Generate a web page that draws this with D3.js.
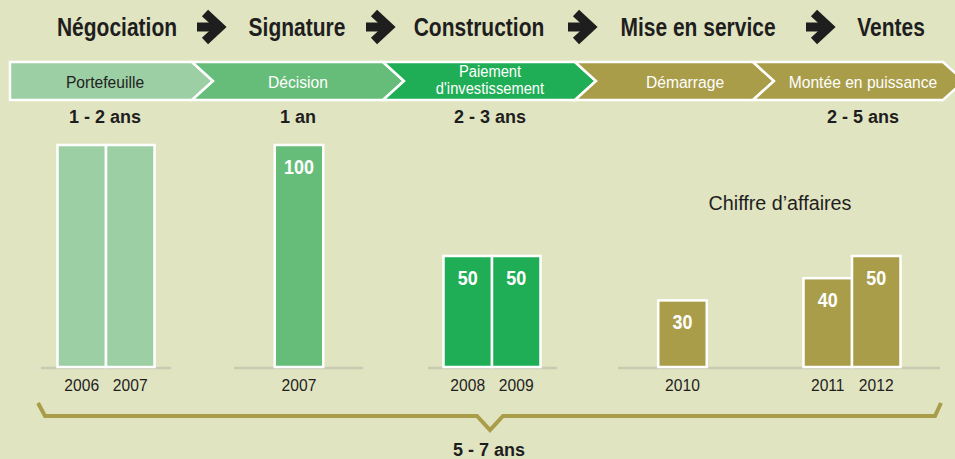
<!DOCTYPE html>
<html>
<head>
<meta charset="utf-8">
<script src="https://cdn.jsdelivr.net/npm/d3@7"></script>
<style>
  body { margin: 0; background: #e1e4c0; }
  svg { display: block; }
  text { font-family: "Liberation Sans", Arial, "Helvetica", sans-serif; }
</style>
</head>
<body>
<div id="canvas"></div>
<script>
// data
const stages = ["Négociation", "Signature", "Construction", "Mise en service", "Ventes"];
const phases = [["Portefeuille"], ["Décision"], ["Paiement", "d'investissement"], ["Démarrage"], ["Montée en puissance"]];
const durations = ["1 - 2 ans", "1 an", "2 - 3 ans", "", "2 - 5 ans"];
const years = ["2006", "2007", "2007", "2008", "2009", "2010", "2011", "2012"];
const values = [100, 100, 100, 50, 50, 30, 40, 50];
const valueLabels = ["", "", "100", "50", "50", "30", "40", "50"];
const barPhase = [0, 0, 1, 2, 2, 3, 4, 4];
const revenueLabel = "Chiffre d’affaires";
const totalLabel = "5 - 7 ans";

// layout
const W = 955, H = 459;
const colors = ["#9ccfa3", "#66bc79", "#1fae55", "#a99d49", "#a99d49"];
const phaseTextColor = ["#222", "#fff", "#fff", "#fff", "#fff"];
const stageX = [117, 297, 479, 698, 891];
const arrowX = [212, 381, 583, 821];
const bandEdges = [10, 192, 383, 575, 753, 943];
const bandLabelX = [105, 298, 490, 685, 863];
const groupX = [106, 299, 492, 682.5, 852];
const baselines = [[41, 171], [234, 363], [428, 557], [618, 940]];
const band = {top: 62, bottom: 100, depth: 21};
const barW = 48.5;
const base = 367;
const ink = "#1e1e1e";

// condensed look: squeeze text horizontally
const place = (x, y, sx) => "translate(" + x + "," + y + ") scale(" + sx + ",1)";

const svg = d3.select("#canvas").append("svg")
    .attr("width", W).attr("height", H);

svg.append("rect").attr("width", W).attr("height", H).attr("fill", "#e1e4c0");

// stage titles
svg.selectAll(".stage")
    .data(stages)
  .enter().append("text")
    .attr("transform", (d, i) => place(stageX[i], 36, 0.84))
    .attr("text-anchor", "middle")
    .attr("font-size", 25)
    .attr("font-weight", "bold")
    .attr("fill", ink)
    .text(d => d);

// arrows between titles
const arrows = svg.selectAll(".arrow")
    .data(arrowX)
  .enter().append("g")
    .attr("transform", d => "translate(" + d + ",27)");
arrows.append("line")
    .attr("x1", -15).attr("x2", 6).attr("y1", 0).attr("y2", 0)
    .attr("stroke", ink).attr("stroke-width", 9);
arrows.append("polyline")
    .attr("points", "-7,-14 8,0 -7,14")
    .attr("fill", "none")
    .attr("stroke", ink).attr("stroke-width", 9)
    .attr("stroke-linejoin", "miter");

// phase band (chevrons)
const mid = (band.top + band.bottom) / 2;
svg.selectAll(".seg")
    .data(phases)
  .enter().append("path")
    .attr("d", (d, i) => {
        let x0 = bandEdges[i], x1 = bandEdges[i + 1];
        let p = "M" + x0 + "," + band.top + "L" + x1 + "," + band.top +
            "L" + (x1 + band.depth) + "," + mid + "L" + x1 + "," + band.bottom +
            "L" + x0 + "," + band.bottom;
        if (i > 0) p += "L" + (x0 + band.depth) + "," + mid;
        return p + "Z";
    })
    .attr("fill", (d, i) => colors[i])
    .attr("stroke", "#fff")
    .attr("stroke-width", 2.5)
    .attr("stroke-linejoin", "miter");

// one text per line so the two-line label stays tidy
const phaseLines = [];
phases.forEach((lines, i) => {
    lines.forEach((t, k) => {
        phaseLines.push({text: t, phase: i, y: lines.length > 1 ? 77 + k * 17 : 88, size: lines.length > 1 ? 16 : 17});
    });
});

svg.selectAll(".phase")
    .data(phaseLines)
  .enter().append("text")
    .attr("transform", d => place(bandLabelX[d.phase], d.y, 0.92))
    .attr("text-anchor", "middle")
    .attr("font-size", d => d.size)
    .attr("fill", d => phaseTextColor[d.phase])
    .text(d => d.text);

// durations
svg.selectAll(".dur")
    .data(durations)
  .enter().append("text")
    .attr("transform", (d, i) => place(bandLabelX[i], 123, 1))
    .attr("text-anchor", "middle")
    .attr("font-size", 18)
    .attr("font-weight", "bold")
    .attr("fill", ink)
    .text(d => d);

// bars
let y = d3.scaleLinear().domain([0, 100]).range([base, 145]);

const bars = years.map((yr, i) => {
    let members = barPhase.map((p, j) => j).filter(j => barPhase[j] === barPhase[i]);
    let k = members.indexOf(i);
    let x = groupX[barPhase[i]] - members.length * barW / 2 + k * barW;
    return {year: yr, value: values[i], label: valueLabels[i], phase: barPhase[i], x: x};
});

svg.selectAll(".baseline")
    .data(baselines)
  .enter().append("line")
    .attr("x1", d => d[0]).attr("x2", d => d[1])
    .attr("y1", base + 1).attr("y2", base + 1)
    .attr("stroke", "#c9cab4")
    .attr("stroke-width", 2.5);

svg.selectAll(".bar")
    .data(bars)
  .enter().append("rect")
    .attr("x", d => d.x)
    .attr("y", d => y(d.value))
    .attr("width", barW)
    .attr("height", d => base - y(d.value))
    .attr("fill", d => colors[d.phase])
    .attr("stroke", "#fff")
    .attr("stroke-width", 2.5);

svg.selectAll(".val")
    .data(bars)
  .enter().append("text")
    .attr("transform", d => place(d.x + barW / 2, y(d.value) + 29, 0.92))
    .attr("text-anchor", "middle")
    .attr("font-size", 19.5)
    .attr("font-weight", "bold")
    .attr("fill", "#fff")
    .text(d => d.label);

svg.selectAll(".year")
    .data(bars)
  .enter().append("text")
    .attr("transform", d => place(d.x + barW / 2, 391, 0.92))
    .attr("text-anchor", "middle")
    .attr("font-size", 17)
    .attr("fill", ink)
    .text(d => d.year);

svg.append("text")
    .attr("transform", place(780, 210, 0.94))
    .attr("text-anchor", "middle")
    .attr("font-size", 21)
    .attr("fill", ink)
    .text(revenueLabel);

// brace
svg.append("path")
    .attr("d", "M38,403L45,416L477,416L490,430L503,416L935,416L941,403")
    .attr("fill", "none")
    .attr("stroke", "#a99d49")
    .attr("stroke-width", 4)
    .attr("stroke-linejoin", "miter");

svg.append("text")
    .attr("transform", place(489, 456, 1))
    .attr("text-anchor", "middle")
    .attr("font-size", 18)
    .attr("font-weight", "bold")
    .attr("fill", ink)
    .text(totalLabel);
</script>
</body>
</html>
